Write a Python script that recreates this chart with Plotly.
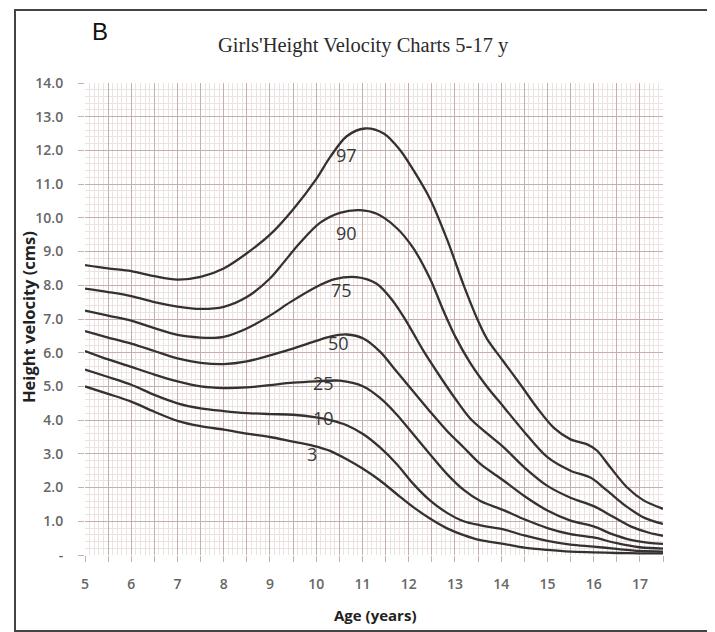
import plotly.graph_objects as go

# ---------------- data ----------------
age97 = [5.0, 5.5, 6.0, 6.5, 7.0, 7.5, 8.0, 8.5, 9.0, 9.5, 10.0, 10.3, 10.66, 11.05, 11.46,
         11.82, 12.1, 12.47, 12.83, 13.19, 13.5, 13.69, 14.05, 14.42, 14.78, 15.14, 15.5,
         15.86, 16.07, 16.36, 16.72, 17.08, 17.5]
p97 = [8.6, 8.5, 8.42, 8.27, 8.17, 8.25, 8.5, 8.95, 9.5, 10.25, 11.15, 11.8, 12.42, 12.65, 12.5,
       12.0, 11.42, 10.54, 9.36, 8.0, 6.95, 6.42, 5.74, 5.05, 4.36, 3.77, 3.43,
       3.28, 3.1, 2.6, 2.01, 1.62, 1.37]

age90 = [5.0, 5.5, 6.0, 6.5, 7.0, 7.5, 8.0, 8.5, 9.0, 9.22, 9.65, 10.08, 10.51, 10.95, 11.31,
         11.74, 12.1, 12.46, 12.75, 13.0, 13.33, 13.69, 14.05, 14.5, 15.0, 15.5, 15.93, 16.3,
         16.7, 17.1, 17.5]
p90 = [7.9, 7.8, 7.68, 7.5, 7.37, 7.3, 7.36, 7.65, 8.2, 8.55, 9.26, 9.85, 10.15, 10.23, 10.12,
       9.7, 9.1, 8.2, 7.25, 6.5, 5.7, 5.0, 4.4, 3.65, 2.9, 2.5, 2.3, 1.9,
       1.45, 1.1, 0.92]

age75 = [5.0, 5.5, 6.0, 6.5, 7.0, 7.5, 7.78, 8.0, 8.5, 9.0, 9.44, 10.0, 10.4, 10.87, 11.3,
         11.65, 11.96, 12.3, 12.7, 13.0, 13.33, 13.7, 14.05, 14.5, 15.0, 15.5, 16.0, 16.4,
         16.8, 17.2, 17.5]
p75 = [7.25, 7.1, 6.95, 6.73, 6.53, 6.45, 6.44, 6.47, 6.72, 7.1, 7.5, 7.95, 8.18, 8.24, 8.05,
       7.55, 6.91, 6.1, 5.25, 4.65, 4.05, 3.6, 3.2, 2.6, 2.05, 1.7, 1.45, 1.15,
       0.85, 0.66, 0.57]

age50 = [5.0, 5.5, 6.0, 6.5, 7.0, 7.5, 8.0, 8.5, 9.0, 9.44, 10.0, 10.3, 10.66, 11.02, 11.38,
         11.74, 12.1, 12.46, 12.83, 13.19, 13.55, 14.05, 14.5, 15.0, 15.5, 16.0, 16.4, 16.8,
         17.2, 17.5]
p50 = [6.64, 6.45, 6.27, 6.05, 5.83, 5.7, 5.66, 5.74, 5.92, 6.1, 6.35, 6.48, 6.54, 6.42, 6.03,
       5.44, 4.85, 4.26, 3.68, 3.19, 2.7, 2.21, 1.75, 1.32, 1.02, 0.85, 0.62, 0.45,
       0.36, 0.33]

age25 = [5.0, 5.5, 6.0, 6.5, 7.0, 7.5, 8.0, 8.5, 9.0, 9.5, 10.0, 10.51, 11.02, 11.38, 11.74,
         12.1, 12.46, 12.83, 13.19, 13.55, 14.05, 14.5, 15.0, 15.5, 16.0, 16.5, 17.0, 17.5]
p25 = [6.05, 5.8, 5.58, 5.35, 5.15, 5.0, 4.95, 4.97, 5.04, 5.11, 5.15, 5.17, 5.0, 4.66, 4.17,
       3.58, 2.99, 2.4, 1.93, 1.6, 1.33, 1.06, 0.8, 0.62, 0.52, 0.35, 0.23, 0.19]

age10 = [5.0, 5.5, 6.0, 6.5, 7.0, 7.5, 8.0, 8.5, 9.0, 9.5, 10.0, 10.3, 10.66, 11.02, 11.38,
         11.74, 12.1, 12.46, 12.83, 13.19, 13.55, 14.05, 14.5, 15.0, 15.5, 16.0, 16.5, 17.0, 17.5]
p10 = [5.5, 5.28, 5.05, 4.75, 4.5, 4.35, 4.27, 4.21, 4.18, 4.16, 4.08, 4.0, 3.85, 3.58, 3.19,
       2.7, 2.11, 1.62, 1.25, 1.0, 0.88, 0.76, 0.58, 0.42, 0.31, 0.25, 0.18, 0.12, 0.1]

age3 = [5.0, 5.5, 6.0, 6.5, 7.0, 7.5, 8.0, 8.5, 9.0, 9.44, 9.94, 10.3, 10.66, 11.02, 11.38,
        11.74, 12.1, 12.46, 12.83, 13.19, 13.55, 14.05, 14.5, 15.0, 15.5, 16.0, 16.5, 17.0, 17.5]
p3 = [5.0, 4.78, 4.55, 4.25, 3.98, 3.82, 3.72, 3.6, 3.5, 3.38, 3.24, 3.09, 2.84, 2.55, 2.21,
      1.81, 1.42, 1.08, 0.79, 0.59, 0.44, 0.33, 0.22, 0.15, 0.1, 0.08, 0.06, 0.05, 0.05]

percentile_names = ["97", "90", "75", "50", "25", "10", "3"]
series_x = [age97, age90, age75, age50, age25, age10, age3]
series_y = [p97, p90, p75, p50, p25, p10, p3]

x_tickvals = [5 + 0.5 * i for i in range(26)]
x_ticktext = ["5", "", "6", "", "7", "", "8", "", "9", "", "10", "", "11", "",
              "12", "", "13", "", "14", "", "15", "", "16", "", "17", ""]
y_tickvals = list(range(15))
y_ticktext = ["-", "1.0", "2.0", "3.0", "4.0", "5.0", "6.0", "7.0", "8.0",
              "9.0", "10.0", "11.0", "12.0", "13.0", "14.0"]

title_text = "Girls'Height Velocity Charts 5-17 y"
panel_letter = "B"
x_title = "Age (years)"
y_title = "Height velocity (cms)"

# label anchor points (age, value) for the percentile names
label_anchor = {"97": (10.65, 11.87), "90": (10.66, 9.54), "75": (10.55, 7.86),
                "50": (10.48, 6.28), "25": (10.15, 5.09), "10": (10.15, 4.05),
                "3": (9.9, 3.01)}

# ---------------- figure ----------------
LINE = "#363131"
MAJOR = "#c6aeab"
MINOR = "#ece3e1"

fig = go.Figure()
for name, xs, ys in zip(percentile_names, series_x, series_y):
    fig.add_trace(go.Scatter(x=xs, y=ys, mode="lines", name=name,
                             line=dict(color=LINE, width=2.3, shape="spline",
                                       smoothing=0.9),
                             showlegend=False, hoverinfo="skip"))

annotations = []
for name in percentile_names:
    ax, ay = label_anchor[name]
    annotations.append(dict(x=ax, y=ay, xref="x", yref="y", text=name,
                            showarrow=False,
                            font=dict(family="Open Sans, Liberation Sans, sans-serif",
                                      size=18, color="#383838")))

# page has an 8px body margin -> figure is offset by 8px
OFF = 8
W, H = 715 - OFF, 632 - OFF
PL, PR, PT, PB = 85, 663, 83, 555          # plot area in page pixels
L, R, T, B = PL - OFF, W - (PR - OFF), PT - OFF, H - (PB - OFF)
pw, ph = W - L - R, H - T - B

def px_to_paper(px, py):
    return (px - OFF - L) / pw, (H - B - (py - OFF)) / ph

bx0, by0 = px_to_paper(15, 631)
bx1, by1 = px_to_paper(708, 10)

lx, ly = px_to_paper(100, 31)
annotations.append(dict(x=lx, y=ly, xref="paper", yref="paper", text=panel_letter,
                        showarrow=False, xanchor="center", yanchor="middle",
                        font=dict(family="Liberation Sans, sans-serif", size=24,
                                  color="#111111")))
tx, ty = px_to_paper(363, 45)
annotations.append(dict(x=tx, y=ty, xref="paper", yref="paper", text=title_text,
                        showarrow=False, xanchor="center", yanchor="middle",
                        font=dict(family="Liberation Serif, serif", size=20.5,
                                  color="#2b2b2b")))
yx, yy = px_to_paper(28, 317)
annotations.append(dict(x=yx, y=yy, xref="paper", yref="paper", text="<b>" + y_title + "</b>",
                        showarrow=False, textangle=-90, xanchor="center", yanchor="middle",
                        font=dict(family="Open Sans, Liberation Sans, sans-serif", size=16.5,
                                  color="#222222")))
xx, xy = px_to_paper(375, 615)
annotations.append(dict(x=xx, y=xy, xref="paper", yref="paper", text="<b>" + x_title + "</b>",
                        showarrow=False, xanchor="center", yanchor="middle",
                        font=dict(family="Open Sans, Liberation Sans, sans-serif", size=15,
                                  color="#222222")))

fig.update_layout(
    width=W, height=H,
    margin=dict(l=L, r=R, t=T, b=B),
    paper_bgcolor="white", plot_bgcolor="white",
    annotations=annotations,
    shapes=[dict(type="rect", xref="paper", yref="paper", x0=bx0, y0=by0, x1=bx1, y1=by1,
                 line=dict(color="#444444", width=2), fillcolor="rgba(0,0,0,0)",
                 layer="below")],
)

tick_font = dict(family="Open Sans, Liberation Sans, sans-serif", size=14, color="#666666",
                 weight=600)

fig.update_xaxes(range=[5, 17.5], tickmode="array", tickvals=x_tickvals, ticktext=x_ticktext,
                 showgrid=True, gridcolor=MAJOR, gridwidth=1,
                 ticks="outside", ticklen=6, tickcolor=MAJOR,
                 ticklabelstandoff=10, tickfont=tick_font,
                 zeroline=False, showline=False,
                 minor=dict(tickmode="linear", tick0=5, dtick=0.1, showgrid=True,
                            gridcolor=MINOR, gridwidth=1, ticks=""))
fig.update_yaxes(range=[0, 14], tickmode="array", tickvals=y_tickvals, ticktext=y_ticktext,
                 showgrid=True, gridcolor=MAJOR, gridwidth=1,
                 ticks="outside", ticklen=6, tickcolor=MAJOR,
                 ticklabelstandoff=12, tickfont=tick_font,
                 zeroline=False, showline=False,
                 minor=dict(tickmode="linear", tick0=0, dtick=0.2, showgrid=True,
                            gridcolor=MINOR, gridwidth=1, ticks=""))

fig.write_html("out.html")
